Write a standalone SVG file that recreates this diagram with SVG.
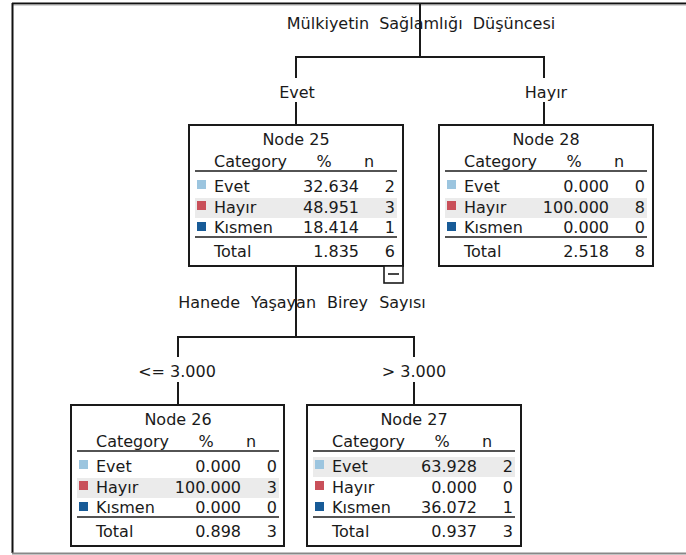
<svg xmlns="http://www.w3.org/2000/svg" width="686" height="555" viewBox="0 0 686 555">
<style>
text{font-family:"DejaVu Sans","Liberation Sans",sans-serif;font-size:16px;fill:#1a1a1a}
.m{text-anchor:middle}
.r{text-anchor:end}
.box{fill:#fff;stroke:#1a1a1a;stroke-width:2}
.rule{stroke:#1a1a1a;stroke-width:1.6}
.hl{fill:#ebebeb}
.c1{fill:#9cc5df}
.c2{fill:#c9505a}
.c3{fill:#185b97}
.conn line{stroke:#1a1a1a;stroke-width:2}
</style>
<rect width="686" height="555" fill="#fff"/>
<g id="frame">
<line x1="12" y1="3.5" x2="686" y2="3.5" stroke="#111" stroke-width="2"/>
<line x1="12" y1="5" x2="686" y2="5" stroke="#aaa" stroke-width="1"/>
<line x1="12.5" y1="3" x2="12.5" y2="553" stroke="#111" stroke-width="2"/>
<line x1="12" y1="553.5" x2="686" y2="553.5" stroke="#888" stroke-width="2"/>
</g>
<g id="connectors" class="conn">
<line x1="420" y1="3" x2="420" y2="57"/>
<line x1="295" y1="57" x2="545" y2="57"/>
<line x1="296" y1="56" x2="296" y2="78"/>
<line x1="296" y1="102" x2="296" y2="125"/>
<line x1="544" y1="56" x2="544" y2="78"/>
<line x1="544" y1="102" x2="544" y2="125"/>
<line x1="296" y1="266" x2="296" y2="337"/>
<line x1="177" y1="337" x2="415" y2="337"/>
<line x1="178" y1="336" x2="178" y2="357"/>
<line x1="178" y1="382" x2="178" y2="405"/>
<line x1="414" y1="336" x2="414" y2="357"/>
<line x1="414" y1="382" x2="414" y2="405"/>
</g>
<g id="labels">
<text class="m" x="421" y="29" word-spacing="5">Mülkiyetin Sağlamlığı Düşüncesi</text>
<text class="m" x="297" y="98">Evet</text>
<text class="m" x="546" y="98">Hayır</text>
<text class="m" x="302" y="308" word-spacing="6">Hanede Yaşayan Birey Sayısı</text>
<text class="m" x="177" y="377">&lt;= 3.000</text>
<text class="m" x="414" y="377">&gt; 3.000</text>
</g>
<g id="node25" transform="translate(189,125)">
<rect class="box" x="0" y="0" width="214" height="141"/>
<text class="m" x="107" y="20">Node 25</text>
<text x="25" y="42">Category</text><text class="m" x="135" y="42">%</text><text class="m" x="180" y="42">n</text>
<line class="rule" x1="6" y1="46" x2="208" y2="46"/>
<rect class="hl" x="6" y="73" width="202" height="20"/>
<rect class="c1" x="8" y="55" width="9" height="9"/><text x="25" y="67">Evet</text><text class="r" x="170" y="67">32.634</text><text class="r" x="206" y="67">2</text>
<rect class="c2" x="8" y="76" width="9" height="9"/><text x="25" y="88">Hayır</text><text class="r" x="170" y="88">48.951</text><text class="r" x="206" y="88">3</text>
<rect class="c3" x="8" y="97" width="9" height="9"/><text x="25" y="108">Kısmen</text><text class="r" x="170" y="108">18.414</text><text class="r" x="206" y="108">1</text>
<line class="rule" x1="6" y1="112" x2="208" y2="112"/>
<text x="25" y="132">Total</text><text class="r" x="170" y="132">1.835</text><text class="r" x="206" y="132">6</text>
<rect x="195" y="141" width="19" height="17" fill="#fff" stroke="#1a1a1a" stroke-width="1.6"/>
<line x1="199" y1="149" x2="210" y2="149" stroke="#1a1a1a" stroke-width="1.6"/>
</g>
<g id="node28" transform="translate(439,125)">
<rect class="box" x="0" y="0" width="214" height="141"/>
<text class="m" x="107" y="20">Node 28</text>
<text x="25" y="42">Category</text><text class="m" x="135" y="42">%</text><text class="m" x="180" y="42">n</text>
<line class="rule" x1="6" y1="46" x2="208" y2="46"/>
<rect class="hl" x="6" y="73" width="202" height="20"/>
<rect class="c1" x="8" y="55" width="9" height="9"/><text x="25" y="67">Evet</text><text class="r" x="170" y="67">0.000</text><text class="r" x="206" y="67">0</text>
<rect class="c2" x="8" y="76" width="9" height="9"/><text x="25" y="88">Hayır</text><text class="r" x="170" y="88">100.000</text><text class="r" x="206" y="88">8</text>
<rect class="c3" x="8" y="97" width="9" height="9"/><text x="25" y="108">Kısmen</text><text class="r" x="170" y="108">0.000</text><text class="r" x="206" y="108">0</text>
<line class="rule" x1="6" y1="112" x2="208" y2="112"/>
<text x="25" y="132">Total</text><text class="r" x="170" y="132">2.518</text><text class="r" x="206" y="132">8</text>
</g>
<g id="node26" transform="translate(71,405)">
<rect class="box" x="0" y="0" width="213" height="141"/>
<text class="m" x="107" y="20">Node 26</text>
<text x="25" y="42">Category</text><text class="m" x="135" y="42">%</text><text class="m" x="180" y="42">n</text>
<line class="rule" x1="6" y1="46" x2="208" y2="46"/>
<rect class="hl" x="6" y="73" width="202" height="20"/>
<rect class="c1" x="8" y="55" width="9" height="9"/><text x="25" y="67">Evet</text><text class="r" x="170" y="67">0.000</text><text class="r" x="206" y="67">0</text>
<rect class="c2" x="8" y="76" width="9" height="9"/><text x="25" y="88">Hayır</text><text class="r" x="170" y="88">100.000</text><text class="r" x="206" y="88">3</text>
<rect class="c3" x="8" y="97" width="9" height="9"/><text x="25" y="108">Kısmen</text><text class="r" x="170" y="108">0.000</text><text class="r" x="206" y="108">0</text>
<line class="rule" x1="6" y1="112" x2="208" y2="112"/>
<text x="25" y="132">Total</text><text class="r" x="170" y="132">0.898</text><text class="r" x="206" y="132">3</text>
</g>
<g id="node27" transform="translate(307,405)">
<rect class="box" x="0" y="0" width="214" height="141"/>
<text class="m" x="107" y="20">Node 27</text>
<text x="25" y="42">Category</text><text class="m" x="135" y="42">%</text><text class="m" x="180" y="42">n</text>
<line class="rule" x1="6" y1="46" x2="208" y2="46"/>
<rect class="hl" x="6" y="52" width="202" height="20"/>
<rect class="c1" x="8" y="55" width="9" height="9"/><text x="25" y="67">Evet</text><text class="r" x="170" y="67">63.928</text><text class="r" x="206" y="67">2</text>
<rect class="c2" x="8" y="76" width="9" height="9"/><text x="25" y="88">Hayır</text><text class="r" x="170" y="88">0.000</text><text class="r" x="206" y="88">0</text>
<rect class="c3" x="8" y="97" width="9" height="9"/><text x="25" y="108">Kısmen</text><text class="r" x="170" y="108">36.072</text><text class="r" x="206" y="108">1</text>
<line class="rule" x1="6" y1="112" x2="208" y2="112"/>
<text x="25" y="132">Total</text><text class="r" x="170" y="132">0.937</text><text class="r" x="206" y="132">3</text>
</g>
</svg>
